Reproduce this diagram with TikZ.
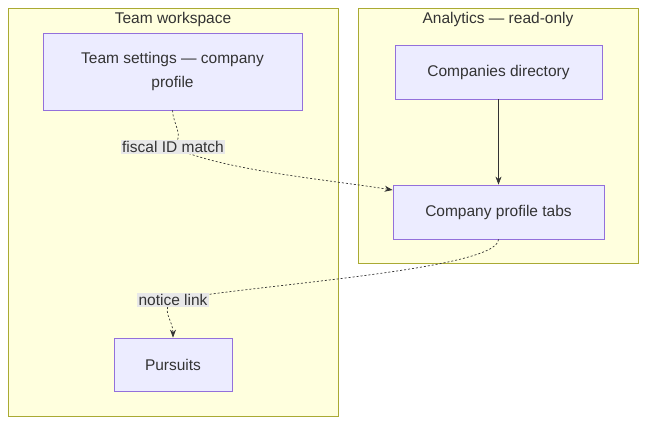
\documentclass[tikz,border=0pt]{standalone}
\usepackage{fontspec}
\setmainfont{Liberation Sans}
\usetikzlibrary{positioning,arrows.meta}
\definecolor{clfill}{HTML}{FFFFDE}
\definecolor{clline}{HTML}{AAAA33}
\definecolor{ndfill}{HTML}{ECECFF}
\definecolor{ndline}{HTML}{9370DB}
\definecolor{txt}{HTML}{333333}
\definecolor{lblbg}{HTML}{E8E8E8}
\tikzset{
  cluster/.style={draw=clline, fill=clfill, line width=0.8pt},
  box/.style={draw=ndline, fill=ndfill, line width=0.8pt, text=txt, align=center, font=\fontsize{15.5}{24}\selectfont},
  cltitle/.style={text=txt, font=\fontsize{15.5}{18}\selectfont, anchor=north},
  elabel/.style={fill=lblbg, text=txt, inner sep=1.5pt, font=\fontsize{15.5}{18}\selectfont},
  link/.style={draw=txt, line width=0.7pt, -{Stealth[length=8pt,width=6pt]}},
  dotlink/.style={link, dash pattern=on 2pt off 2pt}
}
\begin{document}
\begin{tikzpicture}[x=1pt,y=-1pt]
\useasboundingbox (0,0) rectangle (647,425);
% clusters
\draw[cluster] (8,8) rectangle (338,416);
\node[cltitle] (tw) at (173,9) {Team workspace};
\draw[cluster] (358,8) rectangle (638,263);
\node[cltitle] (an) at (498,9) {Analytics — read-only};
% nodes
\node[box, minimum width=259pt, minimum height=77pt] (settings) at (172.5,71.5) {Team settings — company\\profile};
\node[box, minimum width=207pt, minimum height=54pt] (dir) at (498.5,72) {Companies directory};
\node[box, minimum width=211pt, minimum height=54pt] (tabs) at (498.5,212) {Company profile tabs};
\node[box, minimum width=118pt, minimum height=53pt] (pursuits) at (173,364.5) {Pursuits};
\coordinate (fidc) at (173,147);
\coordinate (nlc) at (173,300);
% edges
\draw[link] (dir) -- (tabs);
\draw[dotlink] (settings.south) .. controls (173,125) and (185,135) .. (fidc)
  .. controls (220,170) and (330,180) .. (tabs.west |- 0,190);
\draw[dotlink] (tabs.south) .. controls (498,270) and (250,285) .. (nlc)
  .. controls (160,310) and (173,320) .. (pursuits.north);
% edge labels
\node[elabel] (fid) at (fidc) {fiscal ID match};
\node[elabel] (nl) at (nlc) {notice link};
\end{tikzpicture}
\end{document}
